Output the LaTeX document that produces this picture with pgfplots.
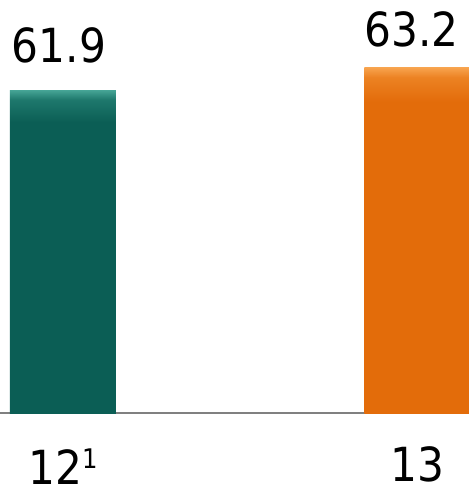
\documentclass[border=0pt]{standalone}
\usepackage{pgfplots}
\pgfplotsset{compat=1.18}
\usepackage{fontspec}
\setmainfont{DejaVu Sans Condensed}
\definecolor{tealbar}{RGB}{11,94,85}
\definecolor{tealmid}{RGB}{30,120,108}
\definecolor{teallight}{RGB}{70,165,150}
\definecolor{orangebar}{RGB}{227,108,10}
\definecolor{orangemid}{RGB}{236,130,35}
\definecolor{orangelight}{RGB}{248,165,80}
\pgfdeclareverticalshading{tealshade}{100bp}{color(0bp)=(tealbar); color(70bp)=(tealbar); color(73.5bp)=(tealmid); color(75bp)=(teallight); color(100bp)=(teallight)}
\pgfdeclareverticalshading{orangeshade}{100bp}{color(0bp)=(orangebar); color(70bp)=(orangebar); color(73.5bp)=(orangemid); color(75bp)=(orangelight); color(100bp)=(orangelight)}
\begin{document}
\begin{tikzpicture}
\path[use as bounding box] (0,-72bp) rectangle (469bp,413bp);
\begin{axis}[
  at={(0,0)}, anchor=south west,
  scale only axis, width=469bp, height=413bp,
  xmin=-0.1777, xmax=1.1453, ymin=43.6, ymax=67,
  axis x line*=bottom, axis y line=none,
  axis line style={draw=black!50, line width=1.2bp, -},
  xtick={0,1},
  xticklabels={\raisebox{-3bp}{12{\fontsize{27bp}{27bp}\selectfont\raisebox{16bp}{1}}}, 13},
  xtick style={draw=none},
  xticklabel style={anchor=base, inner sep=0pt, yshift=-68bp, font=\fontsize{47bp}{47bp}\selectfont},
  clip=false,
]
\addplot[ybar, bar width=106bp, bar shift=0pt, draw=none, shade, shading=tealshade,
  nodes near coords={\pgfmathprintnumber[fixed,fixed zerofill,precision=1,assume math mode=true]{\pgfplotspointmeta}},
  every node near coord/.append style={anchor=base, inner sep=0pt, yshift=27.5bp, xshift=-4bp, text=black, font=\fontsize{47bp}{47bp}\selectfont}]
  coordinates {(0,61.9)};
\addplot[ybar, bar width=106bp, bar shift=0pt, draw=none, shade, shading=orangeshade,
  nodes near coords={\pgfmathprintnumber[fixed,fixed zerofill,precision=1,assume math mode=true]{\pgfplotspointmeta}},
  every node near coord/.append style={anchor=base, inner sep=0pt, yshift=20.5bp, xshift=-6bp, text=black, font=\fontsize{47bp}{47bp}\selectfont}]
  coordinates {(1,63.2)};
\end{axis}
\end{tikzpicture}
\end{document}
